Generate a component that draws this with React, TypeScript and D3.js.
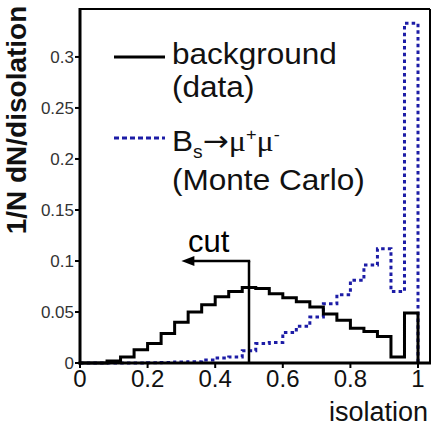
import React from "react";
import * as d3 from "d3";

// Histogram binning: 25 bins of width 0.04 over isolation [0, 1]
const binEdges: number[] = [
  0, 0.04, 0.08, 0.12, 0.16, 0.2, 0.24, 0.28, 0.32, 0.36, 0.4, 0.44, 0.48,
  0.52, 0.56, 0.6, 0.64, 0.68, 0.72, 0.76, 0.8, 0.84, 0.88, 0.92, 0.96, 1.0,
];

// Background (data), fraction per bin
const backgroundValues: number[] = [
  0, 0, 0.002, 0.006, 0.013, 0.019, 0.029, 0.04, 0.05, 0.057, 0.065, 0.07,
  0.074, 0.073, 0.068, 0.064, 0.06, 0.055, 0.048, 0.042, 0.034, 0.031, 0.026,
  0.006, 0.049,
];

// Bs -> mu+ mu- (Monte Carlo), fraction per bin
const signalValues: number[] = [
  0, 0, 0, 0, 0, 0.0003, 0.0005, 0.001, 0.0013, 0.003, 0.005, 0.006, 0.012,
  0.019, 0.02, 0.03, 0.036, 0.045, 0.058, 0.067, 0.081, 0.096, 0.112, 0.07,
  0.333,
];

const xTicks: number[] = [0, 0.2, 0.4, 0.6, 0.8, 1];
const xTickLabels: string[] = ["0", "0.2", "0.4", "0.6", "0.8", "1"];
const yTicks: number[] = [0, 0.05, 0.1, 0.15, 0.2, 0.25, 0.3];
const yTickLabels: string[] = ["0", "0.05", "0.1", "0.15", "0.2", "0.25", "0.3"];

const cutValue = 0.5;
const cutArrowLevel = 0.1;
const cutArrowTip = 0.3;

const W = 433;
const H = 428;

const x = d3.scaleLinear().domain([0, 1.0355]).range([80, 430]);
const y = d3.scaleLinear().domain([0, 0.347]).range([363, 9]);

function stepPoints(values: number[]): [number, number][] {
  const pts: [number, number][] = [[binEdges[0], 0]];
  values.forEach((v, i) => {
    pts.push([binEdges[i], v]);
    pts.push([binEdges[i + 1], v]);
  });
  pts.push([binEdges[binEdges.length - 1], 0]);
  return pts;
}

const line = d3
  .line<[number, number]>()
  .x((d) => x(d[0]))
  .y((d) => y(d[1]));

const SANS = "'Liberation Sans', Arial, sans-serif";
const SERIF = "'Liberation Serif', 'Times New Roman', serif";
const ARROW = "'DejaVu Sans', sans-serif";
const BLUE = "#1c1ca6";

export default function App() {
  const bgPath = line(stepPoints(backgroundValues)) || "";
  const sigPath = line(stepPoints(signalValues)) || "";
  const x0 = x(0);
  const xMax = x(1.0355);
  const y0 = y(0);
  const yTop = y(0.347);

  const cutX = x(cutValue);
  const cutY = y(cutArrowLevel);
  const tipX = x(cutArrowTip);

  return (
    <svg
      width={W}
      height={H}
      style={{ position: "absolute", left: 0, top: 0, background: "#fff" }}
    >
      {/* histograms */}
      <path
        d={sigPath}
        fill="none"
        stroke={BLUE}
        strokeWidth={3}
        strokeDasharray="3.5,3.2"
      />
      <path d={bgPath} fill="none" stroke="#000" strokeWidth={3} />

      {/* cut marker */}
      <line x1={cutX} x2={cutX} y1={y0} y2={cutY} stroke="#000" strokeWidth={2.5} />
      <line x1={cutX + 1.2} x2={tipX + 10} y1={cutY} y2={cutY} stroke="#000" strokeWidth={2.5} />
      <path
        d={`M${tipX},${cutY} L${tipX + 13},${cutY - 5} L${tipX + 13},${cutY + 5} Z`}
        fill="#000"
      />
      <text x={188} y={252} fontFamily={SANS} fontSize={31} fill="#000">
        cut
      </text>

      {/* frame */}
      <line x1={x0} x2={xMax} y1={yTop} y2={yTop} stroke="#000" strokeWidth={2} />
      <line x1={xMax} x2={xMax} y1={yTop} y2={y0} stroke="#000" strokeWidth={2} />
      <line x1={x0} x2={x0} y1={yTop - 1} y2={y0 + 1.5} stroke="#000" strokeWidth={3} />
      <line x1={x0 - 1.5} x2={xMax + 1} y1={y0} y2={y0} stroke="#000" strokeWidth={3} />

      {/* y axis ticks */}
      {yTicks.map((t, i) => (
        <g key={`yt${i}`}>
          <line x1={x0 - 5} x2={x0} y1={y(t)} y2={y(t)} stroke="#000" strokeWidth={2} />
          <text
            x={x0 - 6}
            y={y(t) + 6}
            textAnchor="end"
            fontFamily={SANS}
            fontSize={17}
            fill="#333"
          >
            {yTickLabels[i]}
          </text>
        </g>
      ))}

      {/* x axis ticks */}
      {xTicks.map((t, i) => (
        <g key={`xt${i}`}>
          <line x1={x(t)} x2={x(t)} y1={y0} y2={y0 + 5} stroke="#000" strokeWidth={2} />
          <text
            x={x(t)}
            y={387}
            textAnchor="middle"
            fontFamily={SANS}
            fontSize={24}
            fill="#111"
          >
            {xTickLabels[i]}
          </text>
        </g>
      ))}

      {/* axis titles */}
      <text x={428} y={421} textAnchor="end" fontFamily={SANS} fontSize={27} fill="#111">
        isolation
      </text>
      <text
        transform="translate(26,120) rotate(-90)"
        textAnchor="middle"
        fontFamily={SANS}
        fontWeight="bold"
        fontSize={28}
        fill="#111"
      >
        1/N dN/disolation
      </text>

      {/* legend */}
      <line x1={114} x2={165} y1={57} y2={57} stroke="#000" strokeWidth={3} />
      <g transform="translate(172,0) scale(1.07,1)">
        <text x={0} y={64} fontFamily={SANS} fontSize={29.5} fill="#111">
          background
        </text>
        <text x={0} y={97} fontFamily={SANS} fontSize={29.5} fill="#111">
          (data)
        </text>
      </g>
      <line
        x1={114}
        x2={165}
        y1={138}
        y2={138}
        stroke={BLUE}
        strokeWidth={3}
        strokeDasharray="5,3"
      />
      <g transform="translate(172,0) scale(1.07,1)">
        <text x={0} y={151} fontFamily={SANS} fontSize={29.5} fill="#111">
          B
          <tspan fontSize={18} dy={7}>s</tspan>
          <tspan fontFamily={ARROW} fontSize={29} dy={-7}>→</tspan>
          <tspan fontFamily={SERIF} fontSize={30}>μ</tspan>
          <tspan fontFamily={SANS} fontSize={17} dy={-11}>+</tspan>
          <tspan fontFamily={SERIF} fontSize={30} dy={11}>μ</tspan>
          <tspan fontFamily={SANS} fontSize={17} dy={-11}>-</tspan>
        </text>
        <text x={0} y={190} fontFamily={SANS} fontSize={29.5} fill="#111">
          (Monte Carlo)
        </text>
      </g>
    </svg>
  );
}
